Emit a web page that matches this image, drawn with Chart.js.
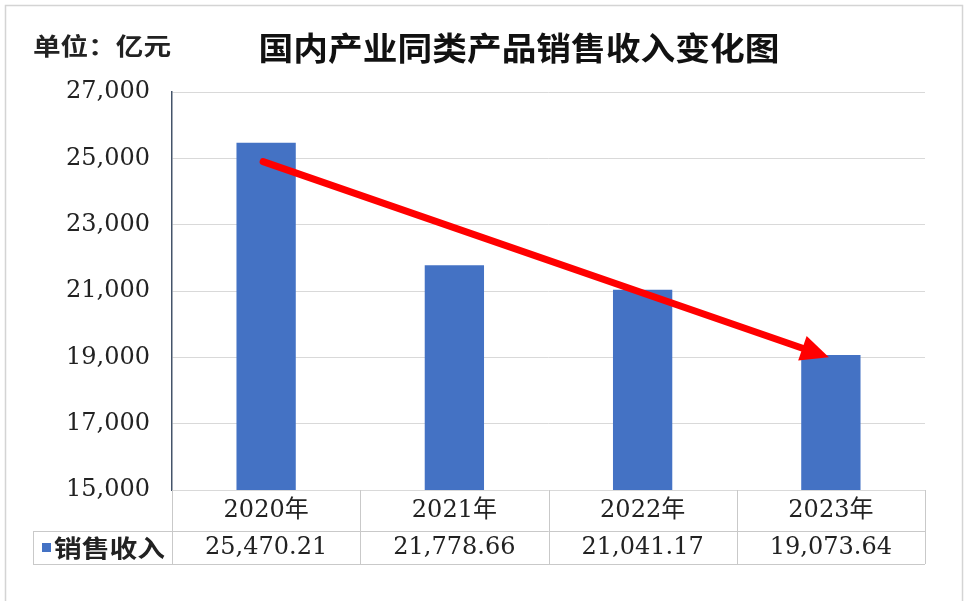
<!DOCTYPE html>
<html>
<head>
<meta charset="utf-8">
<script src="https://cdn.jsdelivr.net/npm/chart.js@4.4.0/dist/chart.umd.min.js"></script>
<style>
  body { margin: 0; background: #fff; }
  #wrap { width: 968px; height: 601px; }
</style>
</head>
<body>
<div id="wrap"><canvas id="salesChart" width="968" height="601"></canvas></div>
<script>
// data
const years = ['2020年', '2021年', '2022年', '2023年'];
const salesRevenue = [25470.21, 21778.66, 21041.17, 19073.64];
const seriesName = '销售收入';
const yTicks = [15000, 17000, 19000, 21000, 23000, 25000, 27000];
const arrowIdx = [0, 3];            // categories the red trend arrow runs between
const arrowValues = [24900, 19000]; // value levels of the arrow ends

const BLUE = '#4472C4';
const GRID = '#d9d9d9';
const TABLE = '#c9c9c9';
const SERIF = '"DejaVu Serif", "Noto Sans CJK SC", serif';
const CJK = '"Noto Sans CJK SC", sans-serif';

const fmt = (v, d) => v.toLocaleString('en-US', { minimumFractionDigits: d, maximumFractionDigits: d });

// draw text squeezed/stretched to a given width
function fitText(ctx, txt, x, y, w, align) {
    const m = ctx.measureText(txt).width;
    const s = w / m;
    ctx.save();
    ctx.translate(x, y);
    ctx.scale(s, 1);
    ctx.textAlign = align || 'left';
    ctx.fillText(txt, 0, 0);
    ctx.restore();
}

function line(ctx, x1, y1, x2, y2) {
    ctx.beginPath();
    ctx.moveTo(x1, y1);
    ctx.lineTo(x2, y2);
    ctx.stroke();
}

const decor = {
    id: 'decor',
    beforeDraw(chart) {
        const ctx = chart.ctx;
        ctx.save();
        ctx.fillStyle = '#fff';
        ctx.fillRect(0, 0, chart.width, chart.height);
        ctx.strokeStyle = '#d4d4d4';
        ctx.lineWidth = 1.5;
        ctx.strokeRect(5.5, 5.5, 957, 620);

        // title + unit
        ctx.fillStyle = '#111';
        ctx.textBaseline = 'middle';
        ctx.font = 'bold 32px ' + CJK;
        fitText(ctx, '国内产业同类产品销售收入变化图', 519, 48, 521, 'center');
        ctx.font = 'bold 24px ' + CJK;
        ctx.fillStyle = '#222';
        fitText(ctx, '单位：亿元', 33, 46, 138);
        ctx.restore();
    },
    afterDraw(chart) {
        const ctx = chart.ctx;
        const xs = chart.scales.x, ys = chart.scales.y;
        const area = chart.chartArea;
        const top = ys.bottom;
        const r1 = top + 41, r2 = r1 + 33;
        const labelLeft = 33;

        ctx.save();
        // data table
        ctx.strokeStyle = TABLE;
        ctx.lineWidth = 1;
        line(ctx, area.left, r1 + 0.5, area.right, r1 + 0.5);
        line(ctx, labelLeft, r1 + 0.5, area.left, r1 + 0.5);
        line(ctx, labelLeft, r2 + 0.5, area.right, r2 + 0.5);
        line(ctx, labelLeft + 0.5, r1, labelLeft + 0.5, r2);
        const bounds = [area.left];
        for (let i = 0; i < years.length - 1; i++) {
            bounds.push((xs.getPixelForTick(i) + xs.getPixelForTick(i + 1)) / 2);
        }
        bounds.push(area.right);
        bounds.forEach(b => line(ctx, Math.round(b) + 0.5, top, Math.round(b) + 0.5, r2));

        ctx.fillStyle = '#222';
        ctx.textBaseline = 'middle';
        ctx.textAlign = 'center';
        ctx.font = '24px ' + SERIF;
        years.forEach((yr, i) => {
            ctx.fillText(yr, xs.getPixelForTick(i), top + 21);
            ctx.fillText(fmt(salesRevenue[i], 2), xs.getPixelForTick(i), r1 + 17);
        });

        // legend key in table
        ctx.fillStyle = BLUE;
        ctx.fillRect(42, r1 + 12, 9, 9);
        ctx.fillStyle = '#222';
        ctx.font = 'bold 24px ' + CJK;
        fitText(ctx, seriesName, 54, r1 + 17, 111);

        // red trend arrow
        const x0 = xs.getPixelForValue(arrowIdx[0]) - 3, y0 = ys.getPixelForValue(arrowValues[0]);
        const x1 = xs.getPixelForValue(arrowIdx[1]) - 2, y1 = ys.getPixelForValue(arrowValues[1]);
        const ang = Math.atan2(y1 - y0, x1 - x0);
        const headLen = 28, headHalf = 13;
        const bx = x1 - headLen * Math.cos(ang), by = y1 - headLen * Math.sin(ang);
        ctx.strokeStyle = '#ff0000';
        ctx.fillStyle = '#ff0000';
        ctx.lineWidth = 7;
        ctx.lineCap = 'round';
        line(ctx, x0, y0, bx + 4 * Math.cos(ang), by + 4 * Math.sin(ang));
        ctx.beginPath();
        ctx.moveTo(x1, y1);
        ctx.lineTo(bx + headHalf * Math.sin(ang), by - headHalf * Math.cos(ang));
        ctx.lineTo(bx - headHalf * Math.sin(ang), by + headHalf * Math.cos(ang));
        ctx.closePath();
        ctx.fill();
        ctx.restore();
    }
};

new Chart(document.getElementById('salesChart').getContext('2d'), {
    type: 'bar',
    data: {
        labels: years,
        datasets: [{
            label: seriesName,
            data: salesRevenue,
            backgroundColor: BLUE,
            borderWidth: 0,
            categoryPercentage: 1,
            barPercentage: 0.315
        }]
    },
    options: {
        responsive: false,
        animation: false,
        layout: { padding: { top: 92, right: 43, bottom: 111, left: 0 } },
        plugins: { legend: { display: false }, tooltip: { enabled: false }, title: { display: false } },
        scales: {
            x: { display: false },
            y: {
                min: yTicks[0],
                max: yTicks[yTicks.length - 1],
                afterBuildTicks: (s) => { s.ticks = yTicks.map(v => ({ value: v })); },
                afterFit: (s) => { s.width = 172; },
                grid: { color: GRID, drawTicks: false },
                border: { color: '#44546A', width: 1.5 },
                ticks: {
                    padding: 22,
                    color: '#222',
                    font: { family: SERIF, size: 24 },
                    callback: (v) => fmt(v, 0)
                }
            }
        }
    },
    plugins: [decor]
});
</script>
</body>
</html>
